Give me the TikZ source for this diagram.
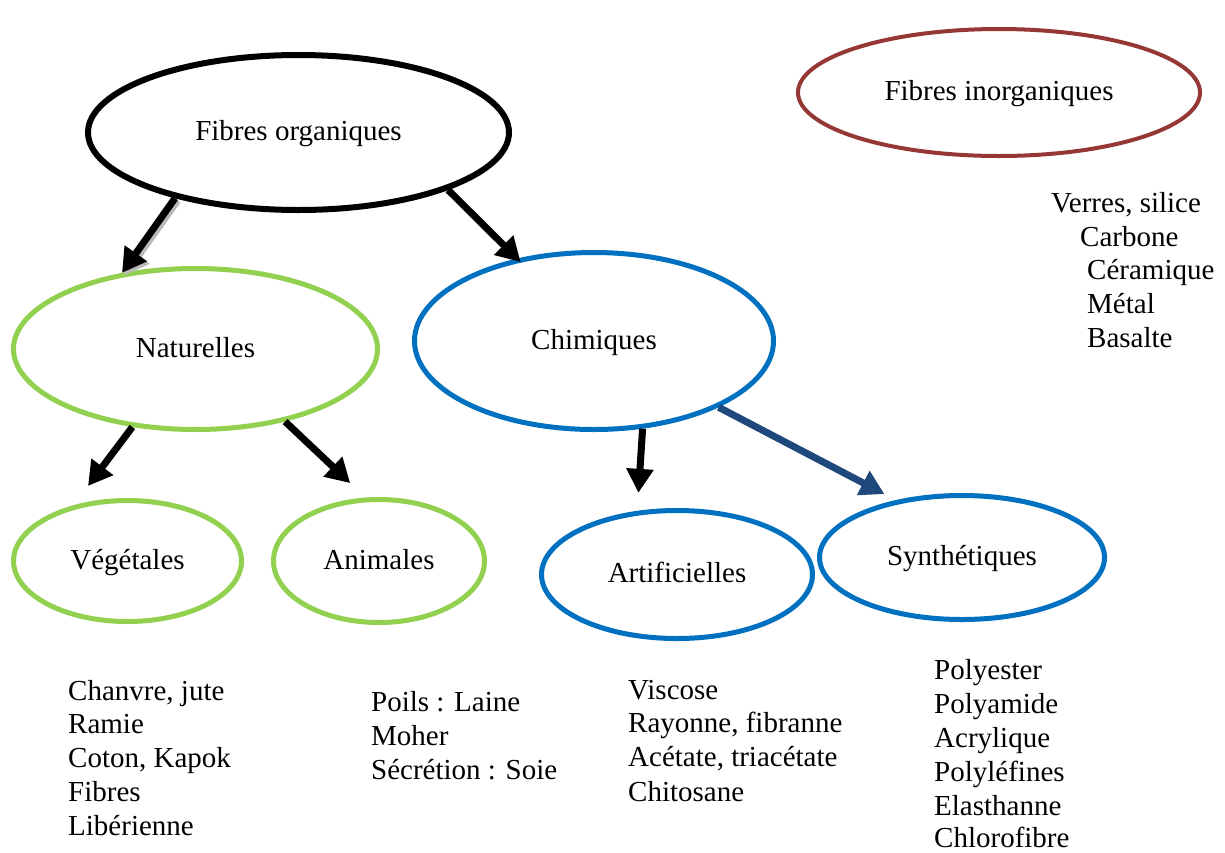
\documentclass[tikz,border=0pt]{standalone}
\usepackage{fontspec}
\setmainfont{Liberation Serif}
\usetikzlibrary{shapes.geometric,arrows.meta}
\definecolor{vert}{HTML}{92D050}
\definecolor{bleu}{HTML}{0070C0}
\definecolor{rouge}{HTML}{953735}
\definecolor{bleufonce}{HTML}{1F497D}
\begin{document}
\begin{tikzpicture}[x=1pt,y=-1pt,
  every node/.style={font=\fontsize{29}{34}\selectfont},
  ell/.style={ellipse, inner sep=0pt, line width=5pt, text height=22pt, text depth=6pt},
  txt/.style={anchor=base west, inner sep=0pt},
  arr/.style={line width=7pt, -{Triangle[length=24pt,width=26pt]}},
]
\fill[white] (0,0) rectangle (1225,852);
\useasboundingbox (0,0) rectangle (1225,852);

% ellipses
\node[ell, draw=black, line width=6pt, minimum width=421pt, minimum height=155pt] (org) at (298.5,132.5) {Fibres organiques};
\node[ell, draw=rouge, line width=4pt, minimum width=402pt, minimum height=127pt] (inorg) at (999,92.5) {Fibres inorganiques};
\node[ell, draw=vert, minimum width=364pt, minimum height=161pt] (nat) at (195.5,349) {Naturelles};
\node[ell, draw=bleu, minimum width=359pt, minimum height=177pt] (chim) at (594,341) {Chimiques};
\node[ell, draw=vert, minimum width=228pt, minimum height=121pt] (veg) at (127.5,561) {Végétales};
\node[ell, draw=vert, minimum width=211pt, minimum height=123pt] (anim) at (379,561) {Animales};
\node[ell, draw=bleu, minimum width=271pt, minimum height=128pt] (artif) at (677,574.5) {Artificielles};
\node[ell, draw=bleu, minimum width=285pt, minimum height=124pt] (synth) at (962,557.5) {Synthétiques};

% arrows
\draw[arr, gray!55, transform canvas={xshift=2.5pt,yshift=-2.5pt}] (org.208) -- (nat.134);
\draw[arr] (org.208) -- (nat.134);
\draw[arr, shorten >=-5pt] (org.339) -- (chim.133.5);
\draw[arr, shorten >=24pt] (nat.231) -- (veg.134);
\draw[arr, shorten >=21pt] (nat.321) -- (anim.102.6);
\draw[arr, shorten >=18pt] (chim.299) -- (artif.122);
\draw[arr, bleufonce, shorten >=13pt] (chim.332.9) -- (synth.139.1);

% lists
\node[txt] (v1) at (68,700) {Chanvre, jute};
\node[txt] (v2) at (68,733) {Ramie};
\node[txt] (v3) at (68,767) {Coton, Kapok};
\node[txt] (v4) at (68,801) {Fibres};
\node[txt] (v5) at (68,835) {Libérienne};

\node[txt] (a1) at (371,711) {Poils : Laine};
\node[txt] (a2) at (371,745) {Moher};
\node[txt] (a3) at (371,779) {Sécrétion : Soie};

\node[txt] (r1) at (628,699) {Viscose};
\node[txt] (r2) at (628,732) {Rayonne, fibranne};
\node[txt] (r3) at (628,766) {Acétate, triacétate};
\node[txt] (r4) at (628,801) {Chitosane};

\node[txt] (s1) at (934,679) {Polyester};
\node[txt] (s2) at (934,713) {Polyamide};
\node[txt] (s3) at (934,747) {Acrylique};
\node[txt] (s4) at (934,781) {Polyléfines};
\node[txt] (s5) at (934,815) {Elasthanne};
\node[txt] (s6) at (934,847) {Chlorofibre};

\node[txt] (i1) at (1051,212) {Verres, silice};
\node[txt] (i2) at (1080,246) {Carbone};
\node[txt] (i3) at (1087,279) {Céramique};
\node[txt] (i4) at (1087,313) {Métal};
\node[txt] (i5) at (1087,347) {Basalte};
\end{tikzpicture}
\end{document}
